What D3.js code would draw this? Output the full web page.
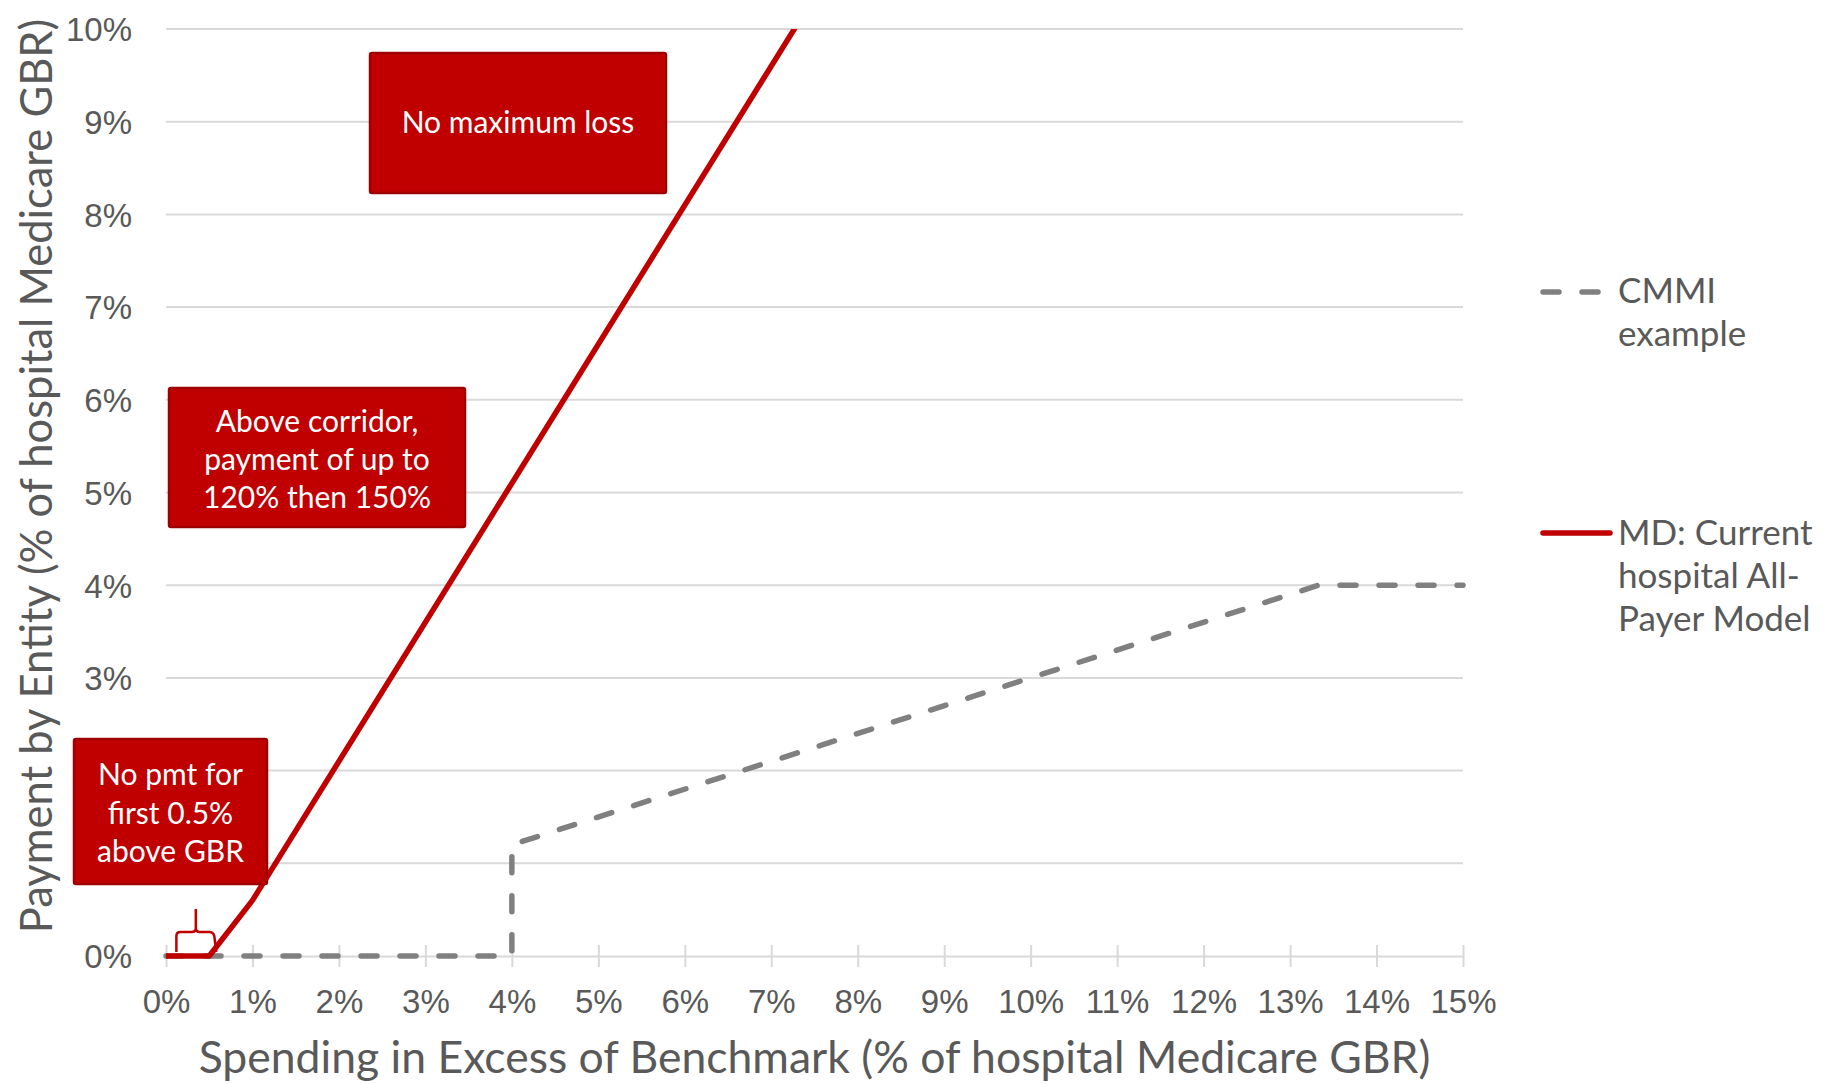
<!DOCTYPE html>
<html>
<head>
<meta charset="utf-8">
<script src="https://cdn.jsdelivr.net/npm/d3@7"></script>
<style>
  html, body { margin: 0; padding: 0; background: #ffffff; }
  svg { display: block; font-family: Lato, "Noto Sans", sans-serif; }
</style>
</head>
<body>
<svg id="chart" width="1823" height="1084"></svg>
<script>
// Excess spending (% of GBR) on x, payment by entity (% of GBR) on y
const xTickValues = [0, 1, 2, 3, 4, 5, 6, 7, 8, 9, 10, 11, 12, 13, 14, 15];
const yTickValues = [0, 1, 2, 3, 4, 5, 6, 7, 8, 9, 10];

// CMMI example: nothing up to 4%, then a step and a linear ramp capped at 4%
const cmmiX = [0, 4, 4, 13.33, 15];
const cmmiY = [0, 0, 1.2, 4, 4];

// Maryland hospital All-Payer Model: 0.5% free band, 120% then 150%, no cap
const mdX = [0, 0.5, 1, 15];
const mdY = [0, 0, 0.6, 21.6];

const seriesNames = ["CMMI example", "MD: Current hospital All-Payer Model"];
const xTitle = "Spending in Excess of Benchmark (% of hospital Medicare GBR)";
const yTitle = "Payment by Entity (% of hospital Medicare GBR)";

// Free band marked by the small brace (x range in % of GBR)
const braceRange = [0.12, 0.57];

const noteTexts = [
  ["No maximum loss"],
  ["Above corridor,", "payment of up to", "120% then 150%"],
  ["No pmt for", "first 0.5%", "above GBR"]
];

// ---- layout ----
const margin = { left: 166, right: 1823 - 1463, top: 29, bottom: 1084 - 956 };
const W = 1823, H = 1084;
const plotW = W - margin.left - margin.right;
const plotH = H - margin.top - margin.bottom;

const textGrey = "#595959";
const gridGrey = "#d9d9d9";
const red = "#c00000";
const redDark = "#9e0000";
const lineGrey = "#808080";

const svg = d3.select("#chart");

const x = d3.scaleLinear().domain([0, 15]).range([margin.left, margin.left + plotW]);
const y = d3.scaleLinear().domain([0, 10]).range([margin.top + plotH, margin.top]);

// annotation box geometry (pixels)
const notes = [
  { rect: [370, 53, 296, 140], text: noteTexts[0], first: 133, step: 38 },
  { rect: [169, 388, 296, 139], text: noteTexts[1], first: 432, step: 38 },
  { rect: [74, 739, 193, 145], text: noteTexts[2], first: 785, step: 38.5 }
];

// gridlines
svg.append("g")
  .selectAll("line")
  .data(yTickValues.filter(d => d > 0))
  .join("line")
  .attr("x1", x(0)).attr("x2", x(15))
  .attr("y1", d => y(d)).attr("y2", d => y(d))
  .attr("stroke", gridGrey).attr("stroke-width", 2);

// x axis with ticks crossing the baseline
const xAxis = svg.append("g")
  .attr("transform", `translate(0,${y(0)})`)
  .call(d3.axisBottom(x).tickValues(xTickValues).tickSize(11).tickSizeOuter(0).tickFormat(d => d + "%"));
xAxis.select(".domain").attr("stroke", gridGrey).attr("stroke-width", 2);
xAxis.selectAll(".tick line").attr("stroke", gridGrey).attr("stroke-width", 2).attr("y1", -11);
xAxis.selectAll(".tick text")
  .attr("fill", textGrey).attr("font-size", 33).attr("y", 57).attr("dy", 0);

// y axis labels only
const yAxis = svg.append("g")
  .attr("transform", `translate(${x(0)},0)`)
  .call(d3.axisLeft(y).tickValues(yTickValues).tickSize(0).tickFormat(d => d + "%"));
yAxis.select(".domain").remove();
yAxis.selectAll(".tick text")
  .attr("fill", textGrey).attr("font-size", 33).attr("x", -34).attr("dy", "0.36em");

// labels sitting underneath an annotation box are covered by it, so drop them
yAxis.selectAll(".tick").filter(function (d) {
  const ty = y(d);
  return notes.some(n => n.rect[0] < x(0) && ty > n.rect[1] && ty < n.rect[1] + n.rect[3]);
}).select("text").remove();

// axis titles
svg.append("text")
  .attr("x", (x(0) + x(15)) / 2 + 0).attr("y", 1073)
  .attr("text-anchor", "middle")
  .attr("fill", textGrey).attr("font-size", 44.5)
  .text(xTitle);

svg.append("text")
  .attr("transform", `translate(52,${476}) rotate(-90)`)
  .attr("text-anchor", "middle")
  .attr("fill", textGrey).attr("font-size", 43.5)
  .text(yTitle);

// clip lines to plot area
svg.append("clipPath").attr("id", "plotClip")
  .append("rect")
  .attr("x", x(0) - 10).attr("y", y(10))
  .attr("width", plotW + 20).attr("height", plotH + 20);

const line = d3.line().x(d => x(d[0])).y(d => y(d[1]));

svg.append("path")
  .datum(d3.zip(cmmiX, cmmiY))
  .attr("d", line)
  .attr("fill", "none")
  .attr("stroke", lineGrey).attr("stroke-width", 5.5)
  .attr("stroke-dasharray", "16,23")
  .attr("stroke-linecap", "round")
  .attr("clip-path", "url(#plotClip)");

svg.append("path")
  .datum(d3.zip(mdX, mdY))
  .attr("d", line)
  .attr("fill", "none")
  .attr("stroke", red).attr("stroke-width", 5.5)
  .attr("stroke-linejoin", "round")
  .attr("clip-path", "url(#plotClip)");

// brace over the free band
(function drawBrace() {
  const x0 = x(braceRange[0]), x1 = x(braceRange[1]);
  const xm = (x0 + x1) / 2;
  const yb = y(0) - 4, yh = y(0) - 24, yt = y(0) - 47, r = 4;
  const p = d3.path();
  p.moveTo(x0, yb);
  p.lineTo(x0, yh + r);
  p.quadraticCurveTo(x0, yh, x0 + r, yh);
  p.lineTo(xm - r, yh);
  p.quadraticCurveTo(xm, yh, xm, yh - r);
  p.lineTo(xm, yt);
  p.moveTo(xm, yh - r);
  p.quadraticCurveTo(xm, yh, xm + r, yh);
  p.lineTo(x1 - r - 2, yh);
  p.quadraticCurveTo(x1 - 2, yh, x1 - 1, yh + r);
  p.lineTo(x1 + 1, yb);
  svg.append("path").attr("d", p.toString())
    .attr("fill", "none").attr("stroke", red).attr("stroke-width", 2.5);
})();

// annotation boxes
notes.forEach(n => {
  const g = svg.append("g");
  g.append("rect")
    .attr("x", n.rect[0]).attr("y", n.rect[1])
    .attr("width", n.rect[2]).attr("height", n.rect[3])
    .attr("rx", 2)
    .attr("fill", red).attr("stroke", redDark).attr("stroke-width", 2.5);
  g.selectAll("text").data(n.text).join("text")
    .attr("x", n.rect[0] + n.rect[2] / 2)
    .attr("y", (d, i) => n.first + i * n.step)
    .attr("text-anchor", "middle")
    .attr("fill", "#ffffff").attr("font-size", 30)
    .text(d => d);
});

// legend
const legend = svg.append("g");
legend.append("line")
  .attr("x1", 1543).attr("x2", 1605).attr("y1", 292).attr("y2", 292)
  .attr("stroke", lineGrey).attr("stroke-width", 5.5)
  .attr("stroke-dasharray", "16,23").attr("stroke-linecap", "round");
legend.append("line")
  .attr("x1", 1543).attr("x2", 1610).attr("y1", 533).attr("y2", 533)
  .attr("stroke", red).attr("stroke-width", 5.5).attr("stroke-linecap", "round");

const legendLines = [
  { lines: ["CMMI", "example"], top: 303 },
  { lines: ["MD: Current", "hospital All-", "Payer Model"], top: 545 }
];
legendLines.forEach((l, k) => {
  legend.append("text")
    .attr("fill", textGrey).attr("font-size", 35)
    .attr("aria-label", seriesNames[k])
    .selectAll("tspan").data(l.lines).join("tspan")
    .attr("x", 1618)
    .attr("y", (d, i) => l.top + i * 43)
    .text(d => d);
});
</script>
</body>
</html>
